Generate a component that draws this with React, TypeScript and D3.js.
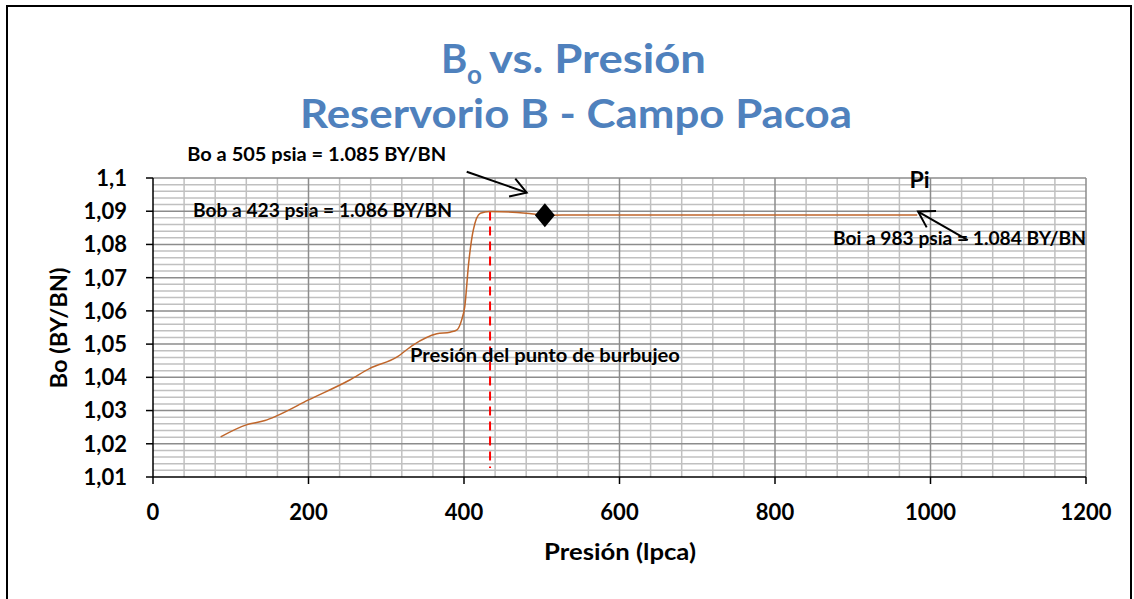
import * as d3 from 'd3'

// Bo curve (pressure in lpca, Bo in BY/BN)
const pressure = [87, 120, 144, 159, 200, 253, 279, 313, 335, 365, 382, 391, 397, 401, 406, 412, 421, 433, 480, 504, 549, 983]
const bo = [1.0221, 1.0257, 1.027, 1.0284, 1.0332, 1.0392, 1.0427, 1.046, 1.0498, 1.0531, 1.0536, 1.0543, 1.0573, 1.0613, 1.0744, 1.0844, 1.0894, 1.0899, 1.0894, 1.0888, 1.0889, 1.0889]

const markerPoint = { p: 504, bo: 1.0888 }
const bubblePoint = { p: 433.5, top: 1.0899, bottom: 1.0127 }

const xTicks = [0, 200, 400, 600, 800, 1000, 1200]
const yTicks = [1.01, 1.02, 1.03, 1.04, 1.05, 1.06, 1.07, 1.08, 1.09, 1.1]

const notes = [
  { text: 'Bo a 505 psia = 1.085 BY/BN', p: 44, bo: 1.1052, len: 259 },
  { text: 'Bob a 423 psia = 1.086 BY/BN', p: 51.5, bo: 1.0883, len: 259 },
  { text: 'Boi a 983 psia = 1.084 BY/BN', p: 874.5, bo: 1.0798, len: 253 },
  { text: 'Presión del punto de burbujeo', p: 330.5, bo: 1.0446, len: 270 }
]

const arrows = [
  { from: [403.5, 1.1019], to: [480.6, 1.0956] },
  { from: [1048, 1.0813], to: [984, 1.0899] }
]

const FONT = 'Lato, "Open Sans", sans-serif'

export default function App() {
  const W = 1134
  const H = 599
  const margin = { left: 153, right: 1086, top: 178, bottom: 477 }

  const x = d3.scaleLinear().domain([0, 1200]).range([margin.left, margin.right])
  const y = d3.scaleLinear().domain([1.01, 1.1]).range([margin.bottom, margin.top])

  const minorX = d3.range(0, 1201, 40).filter(v => v % 200 !== 0)
  const minorY = d3.range(0, 46).map(i => 1.01 + i * 0.002).filter((_, i) => i % 5 !== 0)

  const line = d3.line<number>()
    .x((_, i) => x(pressure[i]))
    .y(d => y(d))
    .curve(d3.curveMonotoneX)

  const fmt = (v: number) => String(+v.toFixed(2)).replace('.', ',')

  const arrowHead = (x1: number, y1: number, x2: number, y2: number) => {
    const a = Math.atan2(y1 - y2, x1 - x2)
    const l = 18
    const s = 0.55
    return `M${x2 + l * Math.cos(a + s)},${y2 + l * Math.sin(a + s)}L${x2},${y2}L${x2 + l * Math.cos(a - s)},${y2 + l * Math.sin(a - s)}`
  }

  const mx = x(markerPoint.p)
  const my = y(markerPoint.bo)

  return (
    <svg width={W} height={H} style={{ position: 'absolute', left: 0, top: 0, background: '#fff' }} fontFamily={FONT}>
      <rect x={7} y={6} width={1124} height={620} fill="#fff" stroke="#000" strokeWidth={2} />

      {/* title */}
      <g fill="#4F81BD" fontWeight="bold">
        <text x={441} y={73} fontSize={40}>B</text>
        <text x={467} y={84} fontSize={26}>o</text>
        <text x={489} y={73} fontSize={40} textLength={217} lengthAdjust="spacingAndGlyphs">vs. Presión</text>
        <text x={300} y={128} fontSize={40} textLength={552} lengthAdjust="spacingAndGlyphs">Reservorio B - Campo Pacoa</text>
      </g>

      {/* grid */}
      <g>
        {minorY.map((v, i) => (
          <line key={'my' + i} x1={margin.left} x2={margin.right} y1={y(v)} y2={y(v)} stroke="#C0C0C0" strokeWidth={1.5} />
        ))}
        {minorX.map(v => (
          <line key={'mx' + v} x1={x(v)} x2={x(v)} y1={margin.top} y2={margin.bottom} stroke="#C0C0C0" strokeWidth={1.5} />
        ))}
        {yTicks.slice(1).map(v => (
          <line key={'gy' + v} x1={margin.left} x2={margin.right} y1={y(v)} y2={y(v)} stroke="#8C8C8C" strokeWidth={1.5} />
        ))}
        {xTicks.slice(1).map(v => (
          <line key={'gx' + v} x1={x(v)} x2={x(v)} y1={margin.top} y2={margin.bottom} stroke="#8C8C8C" strokeWidth={1.5} />
        ))}
      </g>

      {/* axes */}
      <g stroke="#000" strokeWidth={1.5}>
        <line x1={margin.left} x2={margin.left} y1={margin.top} y2={margin.bottom} />
        <line x1={margin.left} x2={margin.right} y1={margin.bottom} y2={margin.bottom} />
        {yTicks.map(v => (
          <line key={'ty' + v} x1={margin.left - 7} x2={margin.left} y1={y(v)} y2={y(v)} />
        ))}
        {xTicks.map(v => (
          <line key={'tx' + v} x1={x(v)} x2={x(v)} y1={margin.bottom} y2={margin.bottom + 7} />
        ))}
      </g>
      <g fontSize={22} fontWeight="bold" fill="#000">
        {yTicks.map(v => (
          <text key={'ly' + v} x={margin.left - 26} y={y(v)} dy="0.36em" textAnchor="end">{fmt(v)}</text>
        ))}
        {xTicks.map(v => (
          <text key={'lx' + v} x={x(v)} y={520} textAnchor="middle">{v}</text>
        ))}
        <text x={620} y={560} textAnchor="middle" textLength={152} lengthAdjust="spacingAndGlyphs">Presión (lpca)</text>
        <text transform="translate(67,328) rotate(-90)" textAnchor="middle" textLength={121} lengthAdjust="spacingAndGlyphs">Bo (BY/BN)</text>
      </g>

      {/* bubble point marker line */}
      <line x1={x(bubblePoint.p)} x2={x(bubblePoint.p)} y1={y(bubblePoint.top)} y2={y(bubblePoint.bottom)}
        stroke="#FF0000" strokeWidth={2} strokeDasharray="9,6" />

      {/* Bo curve */}
      <path d={line(bo) ?? ''} fill="none" stroke="#C0662B" strokeWidth={1.5} />

      {/* diamond */}
      <path d={`M${mx},${my - 12}L${mx + 10},${my}L${mx},${my + 12}L${mx - 10},${my}Z`} fill="#000" />

      {/* annotations */}
      <g fontSize={19} fontWeight="bold" fill="#000">
        {notes.map(n => (
          <text key={n.text} x={x(n.p)} y={y(n.bo)} textLength={n.len} lengthAdjust="spacingAndGlyphs">{n.text}</text>
        ))}
        <text x={x(973)} y={y(1.097)} fontSize={23}>Pi</text>
      </g>
      <g stroke="#000" strokeWidth={2} fill="none">
        {arrows.map((a, i) => {
          const x1 = x(a.from[0]), y1 = y(a.from[1]), x2 = x(a.to[0]), y2 = y(a.to[1])
          return (
            <g key={i}>
              <line x1={x1} y1={y1} x2={x2} y2={y2} />
              <path d={arrowHead(x1, y1, x2, y2)} />
            </g>
          )
        })}
      </g>
    </svg>
  )
}
